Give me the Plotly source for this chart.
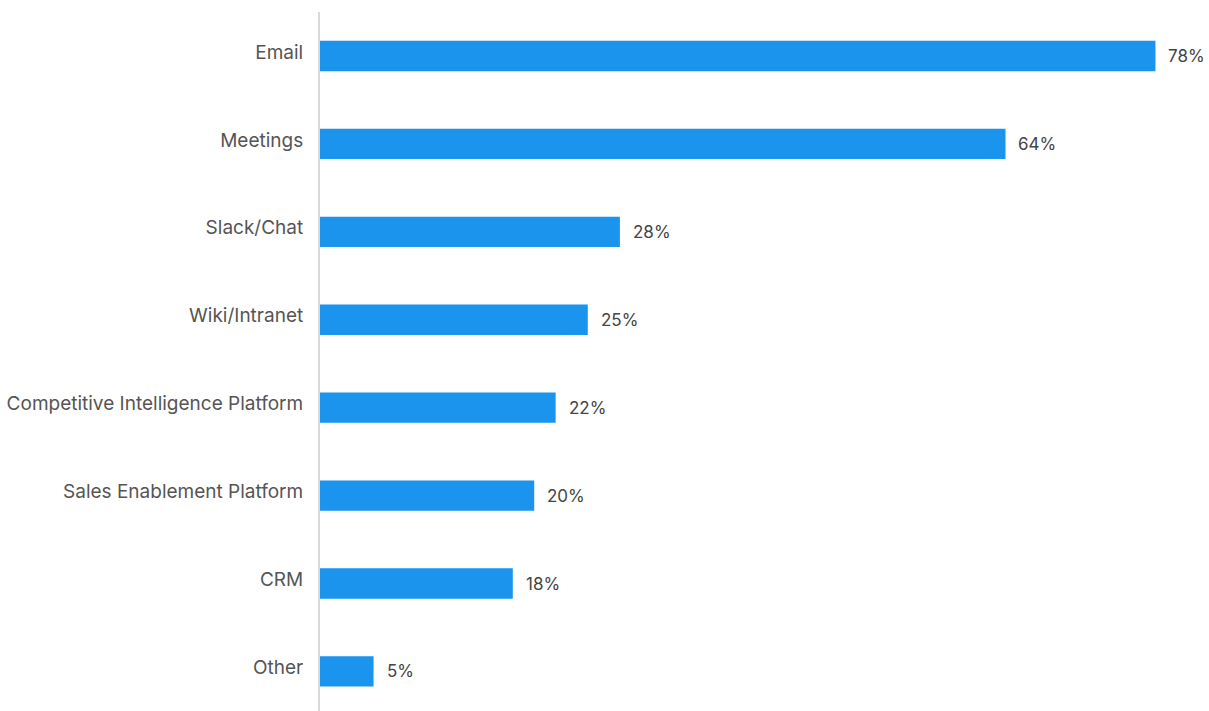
import plotly.graph_objects as go

categories = ["Email", "Meetings", "Slack/Chat", "Wiki/Intranet",
              "Competitive Intelligence Platform", "Sales Enablement Platform",
              "CRM", "Other"]
values = [78, 64, 28, 25, 22, 20, 18, 5]
value_labels = [f"{v}%" for v in values]

BAR_COLOR = "#1a94ec"
TEXT_COLOR = "#555555"
FONT = "Inter, Roboto, sans-serif"

fig = go.Figure(
    go.Bar(
        x=values,
        y=categories,
        orientation="h",
        marker=dict(color=BAR_COLOR, line=dict(width=0)),
        hoverinfo="skip",
    )
)

for cat, v, lab in zip(categories, values, value_labels):
    fig.add_annotation(
        x=v, y=cat, text=lab, showarrow=False,
        xanchor="left", yanchor="middle", xshift=11,
        font=dict(family=FONT, size=17, color="#444444"),
    )

fig.update_layout(
    width=1209, height=711,
    margin=dict(l=320, r=0, t=12, b=0),
    paper_bgcolor="white", plot_bgcolor="white",
    bargap=0.655,
    showlegend=False,
    font=dict(family=FONT, size=17, color=TEXT_COLOR),
)
fig.update_xaxes(range=[0, 83], visible=False, showgrid=False, zeroline=False)
fig.update_yaxes(
    categoryorder="array", categoryarray=categories,
    range=[7.45, -0.5], autorange=False,
    showgrid=False, zeroline=False,
    showline=True, linecolor="#d9d9d9", linewidth=2,
    ticks="outside", ticklen=11, tickcolor="rgba(0,0,0,0)",
    ticklabelshift=4,
    tickfont=dict(family=FONT, size=19, color=TEXT_COLOR),
)

fig.write_html("out.html")
